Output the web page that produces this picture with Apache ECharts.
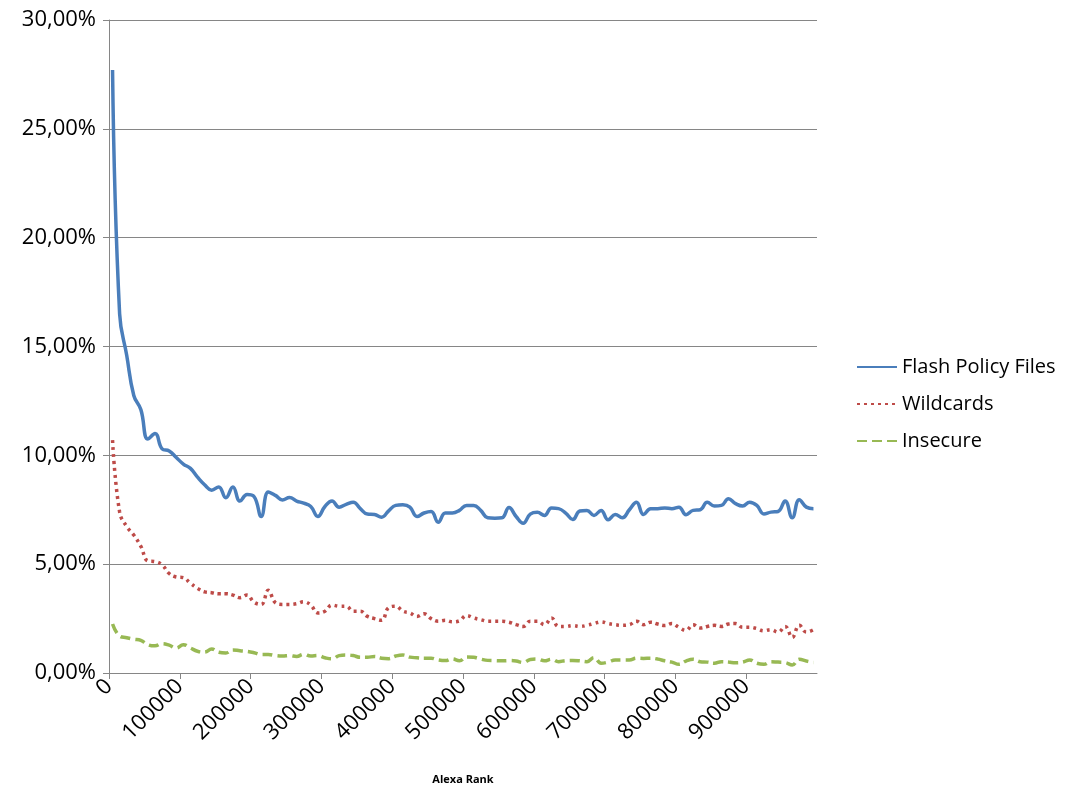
<!DOCTYPE html>
<html>
<head>
<meta charset="utf-8">
<script src="https://cdn.jsdelivr.net/npm/echarts@6/dist/echarts.min.js"></script>
<style>
  html, body { margin: 0; padding: 0; background: #fff; }
  #chart { width: 1080px; height: 798px; }
</style>
</head>
<body>
<div id="chart"></div>
<script>
// Alexa rank buckets (centre of each 10k bucket)
const ranks = [
  5000, 15000, 25000, 35000, 45000, 55000, 65000, 75000, 85000, 95000,
  105000, 115000, 125000, 135000, 145000, 155000, 165000, 175000, 185000, 195000,
  205000, 215000, 225000, 235000, 245000, 255000, 265000, 275000, 285000, 295000,
  305000, 315000, 325000, 335000, 345000, 355000, 365000, 375000, 385000, 395000,
  405000, 415000, 425000, 435000, 445000, 455000, 465000, 475000, 485000, 495000,
  505000, 515000, 525000, 535000, 545000, 555000, 565000, 575000, 585000, 595000,
  605000, 615000, 625000, 635000, 645000, 655000, 665000, 675000, 685000, 695000,
  705000, 715000, 725000, 735000, 745000, 755000, 765000, 775000, 785000, 795000,
  805000, 815000, 825000, 835000, 845000, 855000, 865000, 875000, 885000, 895000,
  905000, 915000, 925000, 935000, 945000, 955000, 965000, 975000, 985000, 995000
];

// Share of sites (%) per bucket
const flashPolicyFiles = [
  27.7, 16.5, 14.6, 12.75, 12.1, 10.75, 11.0, 10.3, 10.2, 9.9,
  9.6, 9.4, 9.0, 8.65, 8.4, 8.55, 8.05, 8.55, 7.9, 8.2,
  8.1, 7.19, 8.32, 8.16, 7.95, 8.06, 7.9, 7.8, 7.65, 7.19,
  7.65, 7.9, 7.62, 7.75, 7.85, 7.55, 7.3, 7.28, 7.16, 7.45,
  7.7, 7.73, 7.62, 7.19, 7.35, 7.42, 6.93, 7.35, 7.35, 7.47,
  7.7, 7.7, 7.47, 7.13, 7.11, 7.13, 7.6, 7.19, 6.88, 7.3,
  7.38, 7.24, 7.58, 7.55, 7.35, 7.05, 7.44, 7.47, 7.24, 7.47,
  7.04, 7.28, 7.13, 7.5, 7.85, 7.28, 7.55, 7.55, 7.58, 7.55,
  7.62, 7.27, 7.47, 7.5, 7.84, 7.67, 7.7, 8.0, 7.78, 7.67,
  7.85, 7.7, 7.31, 7.39, 7.42, 7.9, 7.13, 7.96, 7.62, 7.55
];

const wildcards = [
  10.7, 7.4, 6.73, 6.34, 5.82, 5.15, 5.12, 4.97, 4.57, 4.41,
  4.38, 4.12, 3.89, 3.73, 3.69, 3.64, 3.64, 3.58, 3.46, 3.58,
  3.25, 3.15, 3.8, 3.23, 3.15, 3.15, 3.18, 3.27, 3.12, 2.76,
  2.84, 3.12, 3.07, 3.07, 2.84, 2.84, 2.6, 2.5, 2.42, 3.0,
  3.07, 2.84, 2.76, 2.6, 2.72, 2.5, 2.38, 2.42, 2.35, 2.4,
  2.64, 2.53, 2.45, 2.38, 2.38, 2.38, 2.33, 2.22, 2.14, 2.38,
  2.38, 2.22, 2.53, 2.14, 2.14, 2.18, 2.14, 2.19, 2.27, 2.35,
  2.27, 2.22, 2.19, 2.22, 2.38, 2.22, 2.33, 2.25, 2.18, 2.27,
  2.1, 1.96, 2.22, 2.07, 2.14, 2.19, 2.14, 2.25, 2.27, 2.1,
  2.1, 2.04, 1.94, 1.99, 1.88, 2.14, 1.64, 2.19, 1.88, 1.99
];

const insecure = [
  2.25, 1.7, 1.62, 1.55, 1.5, 1.3, 1.25, 1.35, 1.28, 1.15,
  1.3, 1.15, 1.0, 0.96, 1.1, 0.95, 0.92, 1.06, 1.02, 0.99,
  0.93, 0.85, 0.85, 0.8, 0.78, 0.8, 0.76, 0.86, 0.78, 0.8,
  0.7, 0.65, 0.8, 0.83, 0.8, 0.72, 0.72, 0.76, 0.68, 0.66,
  0.78, 0.83, 0.73, 0.7, 0.68, 0.68, 0.6, 0.57, 0.65, 0.56,
  0.74, 0.72, 0.64, 0.58, 0.57, 0.56, 0.57, 0.55, 0.48, 0.62,
  0.64, 0.56, 0.63, 0.52, 0.57, 0.58, 0.56, 0.52, 0.71, 0.45,
  0.5, 0.6, 0.6, 0.6, 0.68, 0.67, 0.68, 0.64, 0.56, 0.5,
  0.4, 0.55, 0.63, 0.52, 0.5, 0.45, 0.52, 0.5, 0.47, 0.5,
  0.6, 0.45, 0.4, 0.52, 0.5, 0.48, 0.37, 0.63, 0.55, 0.48
];

const seriesNames = ['Flash Policy Files', 'Wildcards', 'Insecure'];

const FONT = '"Open Sans", Lato, sans-serif';
const AXIS_GREY = '#868686';

function pairs(values) {
  return ranks.map((r, i) => [r, values[i]]);
}

const chart = echarts.init(document.getElementById('chart'), null, { renderer: 'canvas' });

chart.setOption({
  backgroundColor: '#ffffff',
  animation: false,
  grid: { left: 109, top: 20, width: 708, height: 653, containLabel: false },
  legend: {
    orient: 'vertical',
    left: 851,
    top: 352,
    itemGap: 17,
    itemWidth: 40,
    itemHeight: 20,
    itemStyle: { opacity: 0 },
    textStyle: { fontFamily: FONT, fontSize: 20, color: '#000' },
    data: seriesNames
  },
  xAxis: {
    type: 'value',
    min: 0,
    max: 1000000,
    interval: 100000,
    name: 'Alexa Rank',
    nameLocation: 'middle',
    nameGap: 101,
    nameTextStyle: { fontFamily: FONT, fontSize: 11, fontWeight: 'bold', color: '#000' },
    axisLine: { show: true, lineStyle: { color: AXIS_GREY, width: 1 } },
    axisTick: { show: true, inside: false, length: 6, lineStyle: { color: AXIS_GREY } },
    splitLine: { show: false },
    axisLabel: {
      rotate: 45,
      margin: 10,
      fontFamily: FONT,
      fontSize: 22,
      color: '#000',
      showMaxLabel: false,
      formatter: v => (v >= 1000000 ? '' : String(v))
    }
  },
  yAxis: {
    type: 'value',
    min: 0,
    max: 30,
    interval: 5,
    axisLine: { show: true, lineStyle: { color: AXIS_GREY, width: 1 } },
    axisTick: { show: true, inside: false, length: 6, lineStyle: { color: AXIS_GREY } },
    splitLine: { show: true, lineStyle: { color: AXIS_GREY, width: 1 } },
    axisLabel: {
      margin: 13,
      fontFamily: FONT,
      fontSize: 22,
      color: '#000',
      formatter: v => v.toFixed(2).replace('.', ',') + '%'
    }
  },
  series: [
    {
      name: seriesNames[0],
      type: 'line',
      data: pairs(flashPolicyFiles),
      smooth: 0.45,
      showSymbol: false,
      symbol: 'none',
      lineStyle: { color: '#4A7EBB', width: 3.5 },
      itemStyle: { color: '#4A7EBB' },
      z: 3
    },
    {
      name: seriesNames[1],
      type: 'line',
      data: pairs(wildcards),
      smooth: 0.45,
      showSymbol: false,
      symbol: 'none',
      lineStyle: { color: '#BE4B48', width: 3.5, type: [3, 4], cap: 'butt' },
      itemStyle: { color: '#BE4B48' },
      z: 2
    },
    {
      name: seriesNames[2],
      type: 'line',
      data: pairs(insecure),
      smooth: 0.45,
      showSymbol: false,
      symbol: 'none',
      lineStyle: { color: '#98B954', width: 3.5, type: [10, 5], cap: 'butt' },
      itemStyle: { color: '#98B954' },
      z: 1
    }
  ]
});
</script>
</body>
</html>
